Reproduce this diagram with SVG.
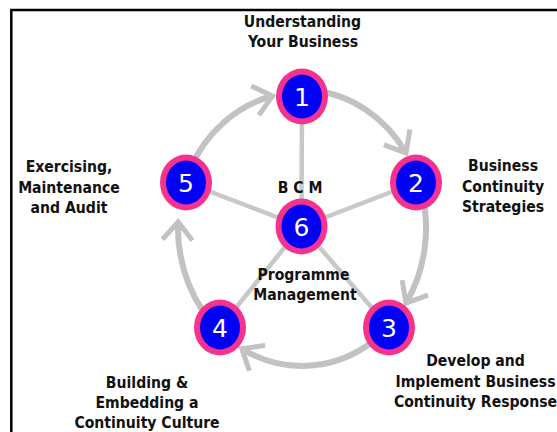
<svg xmlns="http://www.w3.org/2000/svg" width="557" height="432" viewBox="0 0 557 432">
  <style>
    .lbl { font-family: "DejaVu Sans Condensed", "DejaVu Sans", sans-serif; font-stretch: condensed; font-weight: bold; font-size: 15.6px; fill: #111; text-anchor: middle; }
    .num { font-family: "DejaVu Sans", sans-serif; font-size: 25px; fill: #fff; text-anchor: middle; }
    .ring { fill: #f5338f; }
    .core { fill: #0000f5; }
    .spoke { stroke: #c8c8c8; stroke-width: 4.5; fill: none; }
    .arc { stroke: #c2c2c2; stroke-width: 6; fill: none; marker-end: url(#arrow); }
  </style>
  <defs>
    <marker id="arrow" markerUnits="userSpaceOnUse" orient="auto" refX="0" refY="0" markerWidth="40" markerHeight="40" overflow="visible">
      <path d="M-18,-15 L0,0 L-18,15" fill="none" stroke="#c2c2c2" stroke-width="5"/>
    </marker>
  </defs>
  <rect x="0" y="0" width="557" height="432" fill="#fff"/>
  <path d="M11.3,432 V10 H557" fill="none" stroke="#000" stroke-width="2.5"/>

  <g id="connectors">
    <line class="spoke" x1="301.5" y1="226.5" x2="302" y2="96.5"/>
    <line class="spoke" x1="301.5" y1="226.5" x2="416" y2="182.5"/>
    <line class="spoke" x1="301.5" y1="226.5" x2="389" y2="327.5"/>
    <line class="spoke" x1="301.5" y1="226.5" x2="220" y2="327.5"/>
    <line class="spoke" x1="301.5" y1="226.5" x2="186" y2="182.5"/>
    <path class="arc" d="M189.6,169.7 A124,138 0 0 1 272.5,96"/>
    <path class="arc" d="M312.8,90.5 A124,138 0 0 1 406,152.8"/>
    <path class="arc" d="M421.8,192.3 A124,138 0 0 1 406,303.2"/>
    <path class="arc" d="M381.7,333.7 A124,138 0 0 1 241.9,348.7"/>
    <path class="arc" d="M222.3,333.7 A124,138 0 0 1 178.1,222"/>
  </g>

  <g id="node1">
    <ellipse class="ring" cx="302" cy="96.5" rx="26" ry="28"/>
    <ellipse class="core" cx="302" cy="96.5" rx="20" ry="22"/>
    <text class="num" x="302" y="106">1</text>
    <text class="lbl" x="302.5" y="26.5">Understanding</text>
    <text class="lbl" x="303" y="47">Your Business</text>
  </g>
  <g id="node2">
    <ellipse class="ring" cx="416" cy="182.5" rx="26" ry="28"/>
    <ellipse class="core" cx="416" cy="182.5" rx="20" ry="22"/>
    <text class="num" x="416" y="192">2</text>
    <text class="lbl" x="503" y="171">Business</text>
    <text class="lbl" x="503" y="191.5">Continuity</text>
    <text class="lbl" x="503" y="212">Strategies</text>
  </g>
  <g id="node3">
    <ellipse class="ring" cx="389" cy="327.5" rx="26" ry="28"/>
    <ellipse class="core" cx="389" cy="327.5" rx="20" ry="22"/>
    <text class="num" x="389" y="337">3</text>
    <text class="lbl" x="475.5" y="366">Develop and</text>
    <text class="lbl" x="475.5" y="386.5">Implement Business</text>
    <text class="lbl" x="475.5" y="406.5">Continuity Response</text>
  </g>
  <g id="node4">
    <ellipse class="ring" cx="220" cy="327.5" rx="26" ry="28"/>
    <ellipse class="core" cx="220" cy="327.5" rx="20" ry="22"/>
    <text class="num" x="220" y="337">4</text>
    <text class="lbl" x="147" y="388.3">Building &amp;</text>
    <text class="lbl" x="147" y="408.3">Embedding a</text>
    <text class="lbl" x="147" y="428">Continuity Culture</text>
  </g>
  <g id="node5">
    <ellipse class="ring" cx="186" cy="182.5" rx="26" ry="28"/>
    <ellipse class="core" cx="186" cy="182.5" rx="20" ry="22"/>
    <text class="num" x="186" y="192">5</text>
    <text class="lbl" x="69" y="172">Exercising,</text>
    <text class="lbl" x="69" y="192.5">Maintenance</text>
    <text class="lbl" x="69" y="212.5">and Audit</text>
  </g>
  <g id="node6">
    <ellipse class="ring" cx="301.5" cy="226.5" rx="26" ry="28"/>
    <ellipse class="core" cx="301.5" cy="226.5" rx="20" ry="22"/>
    <text class="num" x="301.5" y="236">6</text>
    <text class="lbl" x="300" y="193.3">B C M</text>
    <text class="lbl" x="303.5" y="279.5">Programme</text>
    <text class="lbl" x="305" y="299.5">Management</text>
  </g>
</svg>
